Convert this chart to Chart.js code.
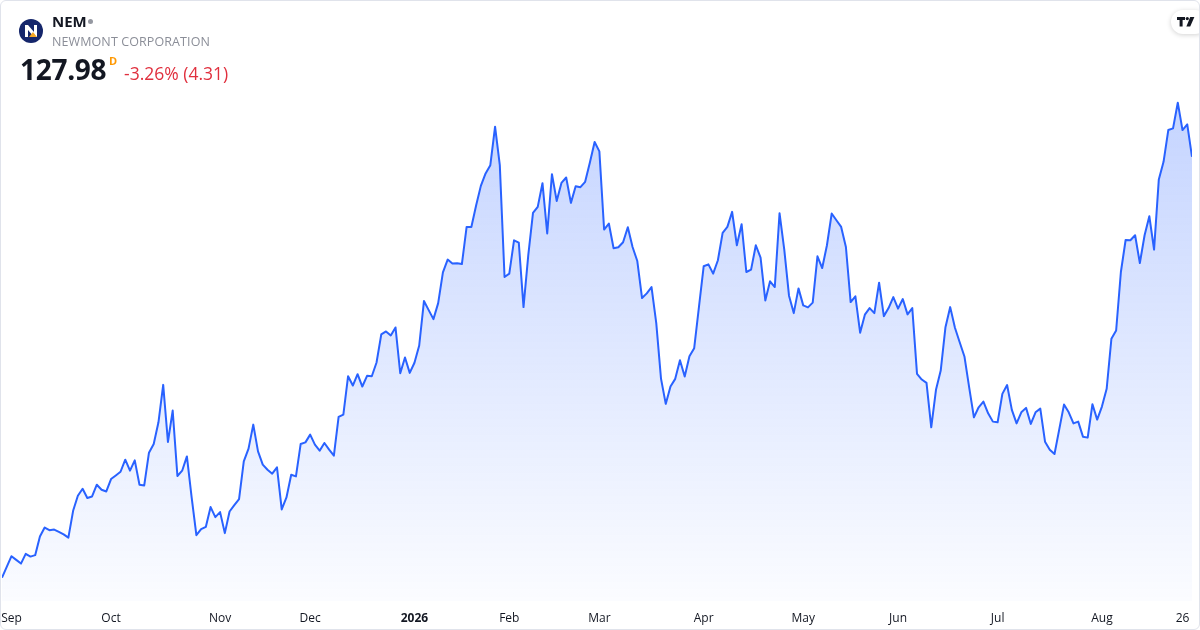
<!DOCTYPE html>
<html>
<head>
<meta charset="utf-8">
<script src="https://cdn.jsdelivr.net/npm/chart.js@4.4.1/dist/chart.umd.min.js"></script>
<style>
  html, body { margin: 0; padding: 0; background: #fff; }
  body { width: 1200px; height: 630px; overflow: hidden; font-family: "Open Sans", "Noto Sans", sans-serif; }
  #wrap { position: relative; width: 1200px; height: 630px; box-sizing: border-box; border: 1px solid #e0e3eb; border-radius: 6px; overflow: hidden; }
  #chart { position: absolute; left: 0; top: 0; }
  .logo { position: absolute; left: 18px; top: 18px; width: 24px; height: 24px; border-radius: 50%; background: #15266b; overflow: hidden; }
  .sym { position: absolute; left: 51px; top: 10px; font-size: 15px; font-weight: 700; color: #131722; }
  .dot { position: absolute; left: 87px; top: 18px; width: 5px; height: 5px; border-radius: 50%; background: #9598a1; }
  .name { position: absolute; left: 51px; top: 32px; font-size: 12.5px; color: #8b8e98; letter-spacing: 0.1px; }
  .price { position: absolute; left: 19px; top: 49px; font-size: 28px; font-weight: 700; color: #131722; letter-spacing: -0.3px; }
  .res { position: absolute; left: 108px; top: 52px; font-size: 11px; font-weight: 700; color: #ff9800; }
  .chg { position: absolute; left: 123px; top: 60px; font-size: 17.5px; color: #e0303e; }
  .tv { position: absolute; right: -8px; top: 9px; width: 36px; height: 24px; border-radius: 12px; background: #fff; box-shadow: 0 1px 5px rgba(0,0,0,0.18); }
</style>
</head>
<body>
<div id="wrap">
  <canvas id="chart" width="1198" height="628"></canvas>
  <div class="logo">
    <svg width="24" height="24" viewBox="0 0 24 24">
      <path d="M6 18 V6 H9 L15 13 V6 H18 V18 H15 L9 11 V18 Z" fill="#fff"/>
      <path d="M10 18 L14 13 L18 18 Z" fill="#f5a623"/>
    </svg>
  </div>
  <div class="sym">NEM</div>
  <div class="dot"></div>
  <div class="name">NEWMONT CORPORATION</div>
  <div class="price">127.98</div>
  <div class="res">D</div>
  <div class="chg">-3.26% (4.31)</div>
  <div class="tv">
    <svg width="20" height="10" viewBox="0 0 20 10" style="position:absolute;left:6px;top:7px">
      <path d="M0 0 H8 V3 H5.6 V9.5 H2.6 V3 H0 Z" fill="#131722"/>
      <circle cx="10.3" cy="1.6" r="1.6" fill="#131722"/>
      <path d="M13.2 0 H17.4 L13.2 9.5 H9.4 Z" fill="#131722"/>
    </svg>
  </div>
</div>
<script>
// NEM daily closes, Aug 28 2025 .. Aug 28 2026
var prices = [
  71.98, 73.41, 74.83, 74.34, 73.85, 75.14, 74.78, 74.97, 77.45, 78.65,
  78.30, 78.38, 78.07, 77.74, 77.31, 80.87, 82.87, 83.81, 82.57, 82.78,
  84.34, 83.67, 83.45, 85.10, 85.58, 86.07, 87.67, 86.21, 87.58, 84.34,
  84.25, 88.61, 89.77, 92.65, 97.63, 90.03, 94.21, 85.50, 86.21, 88.11,
  82.65, 77.63, 78.43, 78.74, 81.37, 80.03, 80.70, 77.90, 80.78, 81.63,
  82.43, 87.45, 89.14, 92.34, 88.78, 87.01, 86.34, 85.81, 86.65, 81.05,
  82.65, 85.67, 85.45, 89.77, 89.98, 91.01, 89.67, 88.87, 89.90, 89.01,
  88.21, 93.37, 93.67, 98.78, 97.54, 99.05, 97.41, 98.83, 98.78, 100.61,
  104.34, 104.74, 104.21, 105.27, 99.18, 101.27, 99.23, 100.57, 102.87, 108.78,
  107.58, 106.38, 108.51, 112.61, 114.30, 113.77, 113.81, 113.71, 118.65, 118.65,
  121.50, 124.11, 125.77, 126.87, 131.98, 126.87, 111.98, 112.43, 116.87, 116.57,
  107.98, 114.87, 120.51, 121.31, 124.47, 117.77, 125.67, 122.11, 124.51, 125.23,
  121.85, 124.07, 123.94, 124.65, 127.23, 129.94, 128.70, 118.30, 119.10, 115.81,
  115.94, 116.61, 118.61, 115.98, 114.11, 109.18, 109.81, 110.65, 105.85, 98.47,
  95.10, 97.41, 98.43, 100.91, 98.74, 101.45, 102.51, 107.98, 113.41, 113.67,
  112.43, 114.21, 117.85, 118.65, 120.65, 116.21, 119.01, 112.65, 112.97, 116.21,
  114.57, 108.87, 111.41, 110.65, 120.47, 115.63, 109.50, 107.18, 110.47, 108.21,
  107.94, 108.57, 114.74, 113.18, 116.21, 120.43, 119.54, 118.65, 115.98, 108.65,
  109.41, 104.57, 106.97, 107.85, 107.18, 111.23, 106.78, 107.85, 109.31, 107.77,
  109.05, 107.01, 107.85, 99.10, 98.34, 97.90, 91.98, 96.97, 99.54, 105.31,
  107.98, 105.23, 103.31, 101.41, 97.31, 93.31, 94.65, 95.41, 93.85, 92.74,
  92.65, 96.43, 97.61, 94.30, 92.51, 93.98, 94.57, 92.43, 93.98, 94.47,
  90.07, 89.01, 88.43, 91.71, 95.01, 93.98, 92.51, 92.74, 90.74, 90.61,
  95.05, 93.01, 94.74, 97.10, 103.77, 104.87, 112.65, 116.91, 116.87, 117.54,
  113.85, 117.54, 120.07, 115.63, 124.97, 127.31, 131.54, 131.77, 135.18, 131.54,
  132.29, 127.98
];

// x-axis: trading-day index of each month start, and its label
var tickIdx    = [2, 23, 46, 65, 87, 107, 126, 148, 169, 189, 210, 232, 249];
var tickLabels = ['Sep', 'Oct', 'Nov', 'Dec', '2026', 'Feb', 'Mar', 'Apr', 'May', 'Jun', 'Jul', 'Aug', '26'];

var points = prices.map(function (p, i) { return { x: i, y: p }; });

var ctx = document.getElementById('chart').getContext('2d');
var myChart = new Chart(ctx, {
    type: 'line',
    data: {
        datasets: [{
            data: points,
            borderColor: '#2962ff',
            borderWidth: 2,
            pointRadius: 0,
            tension: 0,
            borderJoinStyle: 'round',
            fill: 'start',
            backgroundColor: function (c) {
                var a = c.chart.chartArea;
                if (!a) return 'rgba(41,98,255,0.1)';
                var g = c.chart.ctx.createLinearGradient(0, a.top, 0, a.bottom);
                g.addColorStop(0, 'rgba(41,98,255,0.28)');
                g.addColorStop(1, 'rgba(41,98,255,0.02)');
                return g;
            }
        }]
    },
    options: {
        responsive: false,
        animation: false,
        layout: { padding: { left: 1, right: 7, top: 89, bottom: 0 } },
        plugins: { legend: { display: false }, tooltip: { enabled: false } },
        scales: {
            x: {
                type: 'linear',
                min: 0,
                max: prices.length - 1,
                grid: { display: false },
                border: { display: false },
                afterBuildTicks: function (s) {
                    s.ticks = tickIdx.map(function (v) { return { value: v }; });
                },
                afterFit: function (s) {
                    s.height = 28;
                    s.paddingLeft = 0;
                    s.paddingRight = 0;
                },
                ticks: {
                    autoSkip: false,
                    maxRotation: 0,
                    padding: 2,
                    color: '#131722',
                    callback: function (v, i) { return tickLabels[i]; },
                    font: function (c) {
                        var bold = c.tick && c.index === 4;
                        return { family: '"Open Sans", sans-serif', size: 12, weight: bold ? 'bold' : 'normal' };
                    }
                }
            },
            y: {
                display: false,
                min: 68.87,
                max: 136.87
            }
        }
    }
});
</script>
</body>
</html>
